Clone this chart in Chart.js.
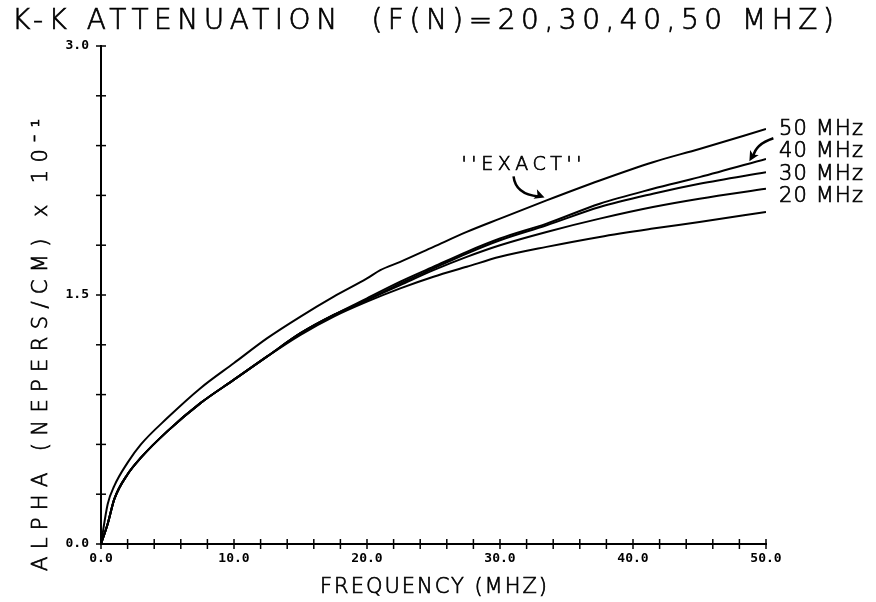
<!DOCTYPE html>
<html>
<head>
<meta charset="utf-8">
<script src="https://cdn.jsdelivr.net/npm/chart.js@4/dist/chart.umd.min.js"></script>
<style>
  html, body { margin: 0; padding: 0; background: #fff; }
  #wrap { width: 876px; height: 602px; }
</style>
</head>
<body>
<div id="wrap"><canvas id="myChart" width="876" height="602"></canvas></div>
<script>
// frequency (MHz) and attenuation alpha (nepers/cm x 10^-1)
const exactFreq = [0, 0.5, 1, 2, 3, 5, 7.5, 10, 12.5, 15, 17.5, 20, 21, 22.5, 25, 27.5, 30, 33.5, 37.5, 41.5, 45, 50];
const exactAlpha = [0, 0.24, 0.35, 0.49, 0.60, 0.76, 0.94, 1.09, 1.24, 1.37, 1.49, 1.60, 1.65, 1.70, 1.79, 1.88, 1.96, 2.07, 2.19, 2.30, 2.38, 2.50];

const kkFreq = [0, 0.5, 1, 2, 3, 5, 7.5, 10, 12.5, 15, 17.5, 20, 22.5, 25, 27.5, 30, 33.5, 37.5, 41.5, 45, 50];
const alpha20 = [0, 0.12, 0.27, 0.42, 0.52, 0.68, 0.85, 0.99, 1.13, 1.26, 1.37, 1.46, 1.54, 1.61, 1.67, 1.73, 1.79, 1.85, 1.90, 1.94, 2.00];
const alpha30 = [0, 0.12, 0.27, 0.42, 0.52, 0.68, 0.85, 0.99, 1.13, 1.27, 1.38, 1.47, 1.56, 1.65, 1.73, 1.80, 1.88, 1.96, 2.03, 2.08, 2.14];
const alpha40 = [0, 0.12, 0.27, 0.42, 0.52, 0.68, 0.85, 0.99, 1.13, 1.27, 1.38, 1.47, 1.57, 1.66, 1.75, 1.83, 1.92, 2.03, 2.11, 2.17, 2.24];
const alpha50 = [0, 0.12, 0.27, 0.42, 0.52, 0.68, 0.85, 0.99, 1.13, 1.27, 1.38, 1.48, 1.58, 1.67, 1.76, 1.84, 1.93, 2.05, 2.14, 2.21, 2.32];

const seriesNames = ["50 MHz", "40 MHz", "30 MHz", "20 MHz"];
const xTickLabels = ["0.0", "10.0", "20.0", "30.0", "40.0", "50.0"];
const yTickLabels = ["0.0", "1.5", "3.0"];

const titleText = "K-K ATTENUATION  (F(N)=20,30,40,50 MHZ)";
const xTitle = "FREQUENCY (MHZ)";
const yTitle = "ALPHA (NEPERS/CM) x 10\u207B\u00B9";

const textFont = "'DejaVu Sans'";

function toPoints(xs, ys) {
  return xs.map(function (x, i) { return { x: x, y: ys[i] }; });
}

function lineSet(label, data) {
  return {
    label: label,
    data: data,
    showLine: true,
    borderColor: "#000",
    borderWidth: 2,
    pointRadius: 0,
    cubicInterpolationMode: "monotone",
  };
}

// draw text stretched to a given width, slightly thickened like a pen plot
function spacedText(ctx, text, x, y, width) {
  const w = ctx.measureText(text).width;
  ctx.letterSpacing = ((width - w) / (text.length - 1)).toFixed(2) + "px";
  ctx.fillText(text, x, y);
  ctx.lineWidth = 0.7;
  ctx.strokeText(text, x, y);
  ctx.letterSpacing = "0px";
}

function arrowHead(ctx, x, y, angle, size) {
  ctx.save();
  ctx.translate(x, y);
  ctx.rotate(angle);
  ctx.beginPath();
  ctx.moveTo(0, 0);
  ctx.lineTo(-size, -size * 0.5);
  ctx.lineTo(-size * 0.75, 0);
  ctx.lineTo(-size, size * 0.5);
  ctx.closePath();
  ctx.fill();
  ctx.restore();
}

const decorations = {
  id: "decorations",
  afterDraw: function (chart) {
    const ctx = chart.ctx;
    const xs = chart.scales.x;
    const ys = chart.scales.y;
    const x0 = xs.getPixelForValue(0);
    const y0 = ys.getPixelForValue(0);
    ctx.save();
    ctx.strokeStyle = "#000";
    ctx.fillStyle = "#000";
    ctx.lineWidth = 1.5;

    // tick marks crossing the axes
    xs.ticks.forEach(function (t) {
      const px = xs.getPixelForValue(t.value);
      ctx.beginPath();
      ctx.moveTo(px, y0 - 5);
      ctx.lineTo(px, y0 + 5);
      ctx.stroke();
    });
    ys.ticks.forEach(function (t) {
      const py = ys.getPixelForValue(t.value);
      ctx.beginPath();
      ctx.moveTo(x0 - 5, py);
      ctx.lineTo(x0 + 5, py);
      ctx.stroke();
    });

    // title and axis titles
    ctx.textBaseline = "alphabetic";
    ctx.textAlign = "left";
    ctx.font = "200 28px " + textFont;
    spacedText(ctx, titleText, 12, 29, 822);

    ctx.font = "200 21px " + textFont;
    spacedText(ctx, xTitle, 320, 593, 227);

    ctx.save();
    ctx.translate(47, 345);
    ctx.rotate(-Math.PI / 2);
    ctx.font = "200 21px " + textFont;
    const ytw = 452;
    spacedText(ctx, yTitle, -ytw / 2, 0, ytw);
    ctx.restore();

    // series labels at the right end
    const endX = xs.getPixelForValue(50);
    const labelAt = [2.50, 2.37, 2.23, 2.10];
    ctx.font = "200 21px " + textFont;
    ctx.textBaseline = "middle";
    seriesNames.forEach(function (name, i) {
      spacedText(ctx, name, endX + 13, ys.getPixelForValue(labelAt[i]) + 1, 84);
    });

    // "EXACT" label with arrow
    const ex = xs.getPixelForValue(33.5);
    const ey = ys.getPixelForValue(2.07);
    ctx.font = "200 19px " + textFont;
    ctx.textBaseline = "alphabetic";
    spacedText(ctx, "''EXACT''", ex - 85, ey - 30, 120);
    ctx.lineWidth = 2.5;
    ctx.beginPath();
    ctx.moveTo(ex - 33, ey - 24);
    ctx.quadraticCurveTo(ex - 31, ey - 6, ex - 8, ey - 4);
    ctx.stroke();
    arrowHead(ctx, ex - 2, ey - 3, 0.35, 10);

    // arrow from the 50 MHz label to its curve
    const ax = xs.getPixelForValue(48.6);
    const ay = ys.getPixelForValue(2.30);
    ctx.beginPath();
    ctx.moveTo(ax + 26, ay - 24);
    ctx.quadraticCurveTo(ax + 8, ay - 18, ax + 6, ay - 6);
    ctx.stroke();
    arrowHead(ctx, ax + 2, ay - 1, 2.1, 10);

    ctx.restore();
  },
};

const ctx = document.getElementById("myChart").getContext("2d");

const myChart = new Chart(ctx, {
  type: "scatter",
  data: {
    datasets: [
      lineSet("EXACT", toPoints(exactFreq, exactAlpha)),
      lineSet(seriesNames[0], toPoints(kkFreq, alpha50)),
      lineSet(seriesNames[1], toPoints(kkFreq, alpha40)),
      lineSet(seriesNames[2], toPoints(kkFreq, alpha30)),
      lineSet(seriesNames[3], toPoints(kkFreq, alpha20)),
    ],
  },
  options: {
    responsive: false,
    animation: false,
    layout: { padding: { left: 0, top: 46, right: 110, bottom: 0 } },
    plugins: {
      legend: { display: false },
      tooltip: { enabled: false },
    },
    scales: {
      x: {
        type: "linear",
        min: 0,
        max: 50,
        afterFit: function (scale) { scale.height = 58; },
        grid: { display: true, drawOnChartArea: false, drawTicks: false },
        border: { display: true, color: "#000", width: 2 },
        ticks: {
          stepSize: 2,
          autoSkip: false,
          maxRotation: 0,
          padding: 7,
          color: "#000",
          font: { family: "DejaVu Sans Mono", size: 13, weight: "bold" },
          callback: function (v) {
            return v % 10 === 0 ? xTickLabels[v / 10] : "";
          },
        },
      },
      y: {
        type: "linear",
        min: 0,
        max: 3,
        afterFit: function (scale) { scale.width = 101; },
        grid: { display: true, drawOnChartArea: false, drawTicks: false },
        border: { display: true, color: "#000", width: 2 },
        ticks: {
          stepSize: 0.3,
          autoSkip: false,
          padding: 12,
          color: "#000",
          font: { family: "DejaVu Sans Mono", size: 13, weight: "bold" },
          callback: function (v) {
            const k = Math.round(v / 1.5);
            return Math.abs(v - k * 1.5) < 1e-6 ? yTickLabels[k] : "";
          },
        },
      },
    },
  },
  plugins: [decorations],
});
</script>
</body>
</html>
